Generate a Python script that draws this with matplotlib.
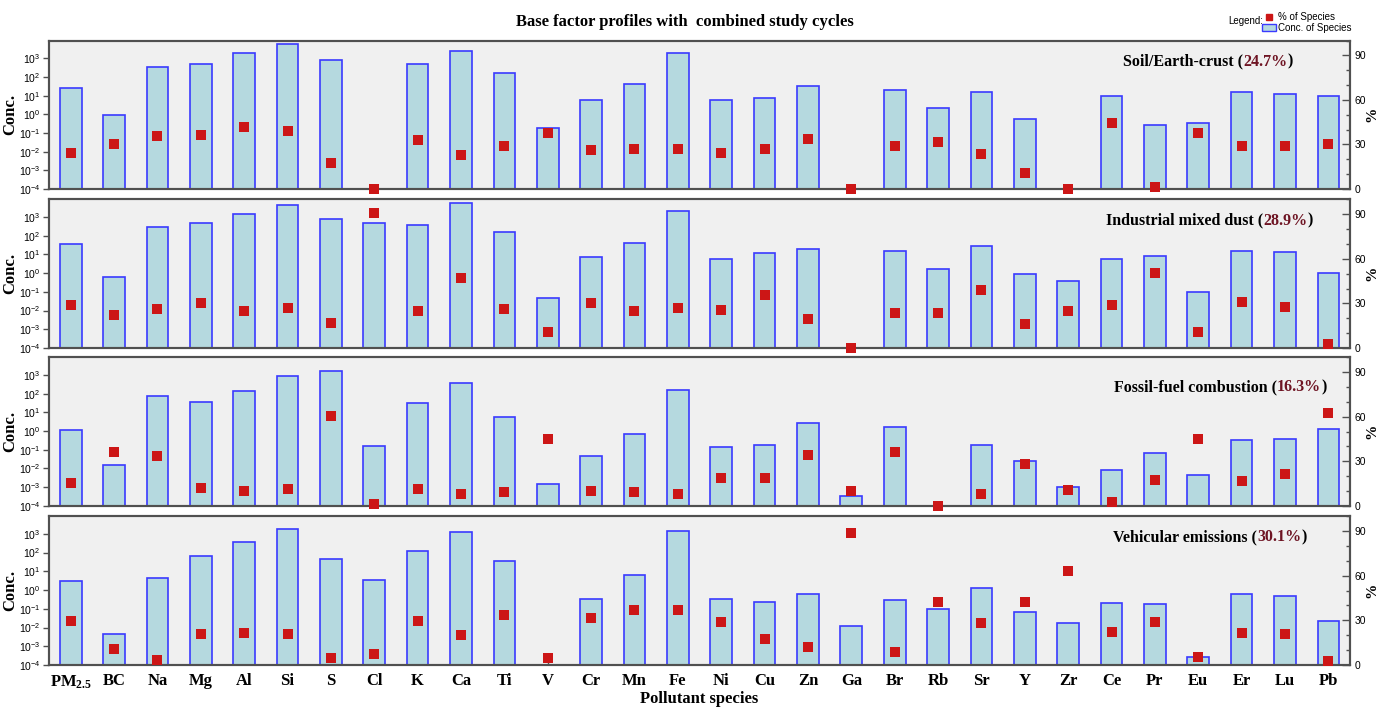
import numpy as np
import matplotlib

matplotlib.use("Agg")

import matplotlib.pyplot as plt
from matplotlib.lines import Line2D
from matplotlib.patches import Patch
from matplotlib.ticker import MultipleLocator, NullLocator

plt.rcParams["mathtext.fontset"] = "custom"
plt.rcParams["mathtext.rm"] = "Liberation Serif:bold"
plt.rcParams["mathtext.it"] = "Liberation Serif:bold"
plt.rcParams["mathtext.bf"] = "Liberation Serif:bold"

nan = np.nan

species = ["PM$_{2.5}$", "BC", "Na", "Mg", "Al", "Si", "S", "Cl", "K", "Ca",
           "Ti", "V", "Cr", "Mn", "Fe", "Ni", "Cu", "Zn", "Ga", "Br",
           "Rb", "Sr", "Y", "Zr", "Ce", "Pr", "Eu", "Er", "Lu", "Pb"]

factor_names = ["Soil/Earth-crust", "Industrial mixed dust",
                "Fossil-fuel combustion", "Vehicular emissions"]
factor_shares = ["24.7%", "28.9%", "16.3%", "30.1%"]

soil_conc = [27, 0.9, 350, 525, 2000, 5700, 790, nan, 525, 2500,
             175, 0.18, 5.7, 41, 1870, 5.7, 7.6, 33, nan, 19.6,
             2.3, 15, 0.55, nan, 9.4, 0.26, 0.35, 15, 13, 10]
soil_pct = [24.4, 30, 35.6, 36.3, 41.9, 39.2, 17.7, 0, 32.7, 22.6,
            28.9, 37.9, 26, 27.1, 26.7, 24.4, 26.7, 33.4, 0, 28.7,
            32, 23.3, 11, 0, 44.6, 1.3, 37.7, 28.7, 28.7, 30.5]

industrial_conc = [35, 0.63, 290, 500, 1450, 4400, 810, 455, 390, 5900,
                   158, 0.049, 6.9, 39, 2100, 6.0, 11.8, 20, nan, 16,
                   1.6, 27, 0.91, 0.4, 6.0, 7.8, 0.1, 16, 13.4, 1.07]
industrial_pct = [28.6, 21.9, 26, 30, 24.6, 27, 16.6, 90.6, 24.6, 47.2,
                  26, 10.7, 30.4, 24.6, 27, 25.3, 35.4, 19.3, 0, 23.7,
                  23.7, 38.9, 16.3, 24.8, 28.6, 50.1, 10.7, 30.9, 27.5, 3]

fossil_conc = [1.1, 0.015, 78, 34, 145, 850, 1730, 0.15, 31, 370,
               5.8, 0.0014, 0.048, 0.72, 163, 0.14, 0.19, 2.6, 0.00035, 1.66,
               nan, 0.19, 0.026, 0.00098, 0.0083, 0.066, 0.0042, 0.35, 0.39, 1.35]
fossil_pct = [15.6, 35.9, 33.2, 11.8, 9.9, 11.1, 60.2, 1, 11.1, 8.1,
              9.3, 45.1, 9.7, 9.3, 7.7, 19, 18.5, 34.1, 9.9, 36.5,
              0, 8.1, 28.4, 10.4, 2.3, 17.2, 45.1, 16.7, 21.2, 62.5]

vehicle_conc = [3.1, 0.0044, 4.2, 67, 390, 1850, 45, 3.4, 123, 1180,
                36, nan, 0.33, 6.3, 1450, 0.33, 0.23, 0.63, 0.012, 0.3,
                0.098, 1.23, 0.065, 0.018, 0.2, 0.17, 0.00028, 0.63, 0.48, 0.022]
vehicle_pct = [29.5, 10.7, 3.6, 20.6, 21.2, 20.6, 4.5, 7.2, 29.5, 19.9,
               33.5, 4.9, 31.7, 36.9, 36.9, 29, 17.6, 11.9, 88.5, 8.9,
               42.4, 27.9, 42.4, 63.2, 22.1, 29, 5.2, 21.7, 20.6, 2.7]

conc_list = [soil_conc, industrial_conc, fossil_conc, vehicle_conc]
pct_list = [soil_pct, industrial_pct, fossil_pct, vehicle_pct]

# panel label placement (axes fraction)
label_pos = [(0.8255, 0.83), (0.8125, 0.83), (0.8186, 0.77), (0.8178, 0.83)]

# axes rectangles (figure fraction)
panel_rects = [(0.0355, 0.7327, 0.9421, 0.2098),
               (0.0355, 0.5078, 0.9421, 0.2103),
               (0.0355, 0.2847, 0.9421, 0.2099),
               (0.0355, 0.0594, 0.9421, 0.2107)]

SERIF = "Liberation Serif"
SANS = "Liberation Sans"
BAR_FACE = "#b5d9df"
BAR_EDGE = "#3a3aff"
SQ_COLOR = "#cc1616"
NUM_COLOR = "#6e1423"
SPINE = "#505050"

fig = plt.figure(figsize=(13.81, 7.07), dpi=100)
renderer = fig.canvas.get_renderer()

x = np.arange(len(species))

for i in range(4):
    ax = fig.add_axes(panel_rects[i])
    ax.set_facecolor("#f0f0f0")
    ax.set_yscale("log")
    ax.bar(x, conc_list[i], width=0.5, color=BAR_FACE,
           edgecolor=BAR_EDGE, linewidth=1.2, zorder=2)
    ax.set_xlim(-0.5, len(species) - 0.5)
    ax.set_ylim(1e-4, 10 ** 3.95)
    ax.set_yticks([10.0 ** k for k in range(-4, 4)])
    ax.yaxis.set_minor_locator(NullLocator())
    ax.tick_params(axis="y", direction="out", length=4, width=1,
                   labelsize=7.5, color=SPINE, pad=2)
    for lab in ax.get_yticklabels():
        lab.set_family(SANS)
    ax.set_ylabel("Conc.", fontfamily=SERIF, fontweight="bold",
                  fontsize=12)
    ax.yaxis.set_label_coords(-0.024, 0.5)

    if i == 3:
        ax.set_xticks(x)
        ax.set_xticklabels(species, fontfamily=SERIF, fontweight="bold",
                           fontsize=12)
        ax.tick_params(axis="x", direction="in", length=6, width=1,
                       color=SPINE, pad=6)
        ax.set_xlabel("Pollutant species", fontfamily=SERIF,
                      fontweight="bold", fontsize=12, labelpad=0)
    else:
        ax.set_xticks([])

    ax2 = ax.twinx()
    ax2.scatter(x, pct_list[i], marker="s", s=55, color=SQ_COLOR,
                zorder=5, clip_on=False, linewidths=0)
    ax2.set_ylim(0, 100)
    ax2.set_yticks([0, 30, 60, 90])
    ax2.yaxis.set_minor_locator(MultipleLocator(10))
    ax2.tick_params(axis="y", which="major", direction="in", length=6,
                    width=1, labelsize=7.5, color=SPINE, pad=3)
    ax2.tick_params(axis="y", which="minor", direction="in", length=3,
                    width=1, color=SPINE)
    for lab in ax2.get_yticklabels():
        lab.set_family(SANS)
    ax2.set_ylabel("%", fontfamily=SERIF, fontweight="bold",
                   fontsize=11, va="center")
    ax2.yaxis.set_label_coords(1.0165, 0.5)

    for a in (ax, ax2):
        for sp in a.spines.values():
            sp.set_color(SPINE)
            sp.set_linewidth(1.5)

    # panel label: black name, dark red share
    lx, ly = label_pos[i]
    parts = [(factor_names[i] + " (", "black"),
             (factor_shares[i], NUM_COLOR),
             (")", "black")]
    for text, col in parts:
        t = ax2.text(lx, ly, text, transform=ax.transAxes, color=col,
                     fontfamily=SERIF, fontweight="bold", fontsize=11.5,
                     va="baseline", ha="left", zorder=6)
        bb = t.get_window_extent(renderer)
        lx = ax.transAxes.inverted().transform((bb.x1, bb.y0))[0]

fig.text(0.496, 0.969, "Base factor profiles with  combined study cycles",
         ha="center", va="center", fontfamily=SERIF, fontweight="bold",
         fontsize=12)

# legend
fig.text(1263 / 1381, 1 - 21 / 707, "Legend:", ha="right", va="center",
         fontfamily=SANS, fontsize=7)
handles = [Line2D([], [], marker="s", color=SQ_COLOR, linestyle="none",
                  markersize=5),
           Patch(facecolor=BAR_FACE, edgecolor=BAR_EDGE, linewidth=1)]
fig.legend(handles, ["% of Species", "Conc. of Species"],
           loc="upper left", bbox_to_anchor=(1262 / 1381, 1 - 12 / 707),
           frameon=False, prop={"family": SANS, "size": 7},
           handlelength=1.4, handleheight=0.6, handletextpad=0.2,
           labelspacing=0.1, borderpad=0, borderaxespad=0)

fig.savefig("out.png", dpi=100)
